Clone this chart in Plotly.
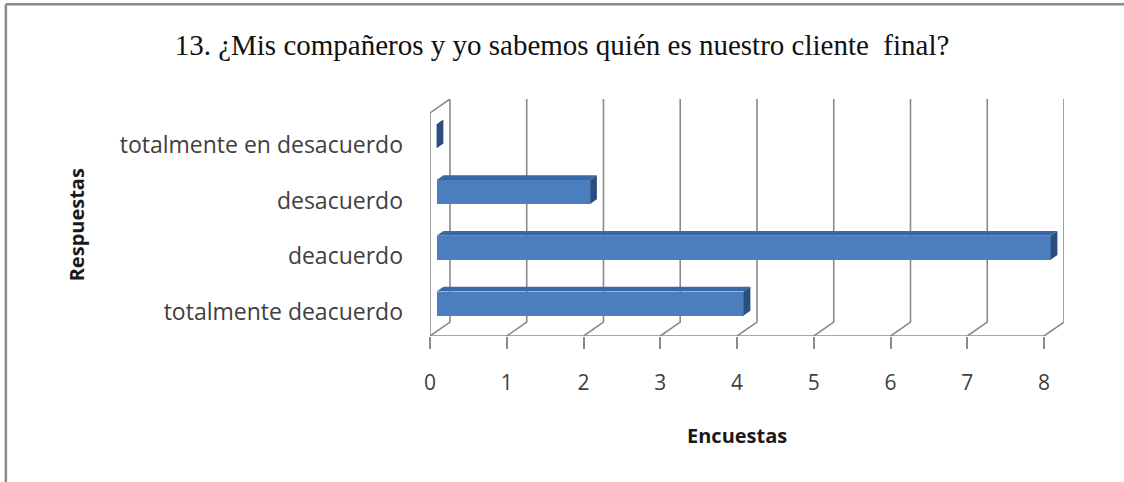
import plotly.graph_objects as go

# Survey answers (bottom to top) and number of responses
categorias = ["totalmente deacuerdo", "deacuerdo", "desacuerdo", "totalmente en desacuerdo"]
encuestas = [4, 8, 2, 0]
ticks_x = [0, 1, 2, 3, 4, 5, 6, 7, 8]

titulo = "13. ¿Mis compañeros y yo sabemos quién es nuestro cliente  final?"
titulo_x = "Encuestas"
titulo_y = "Respuestas"

# Pseudo-3D geometry, in axis units: wall depth and the slab each bar fills
PROF_X, PROF_Y = 0.26, 0.25
BAR_FRENTE, BAR_FONDO = 0.33, 0.67
BAR_ALTO = 0.43
# category labels sit slightly below the category centre
BAJA_ETIQUETA = 0.07

GRIS = "#8a8a8a"
AZUL_FRENTE = "#4a7ebf"
AZUL_ARRIBA = "#3a68a6"
AZUL_LADO = "#2b4e7e"
TEXTO = "#404040"
FUENTE = "Open Sans"

pos = list(range(len(categorias)))
y_min, y_max = -0.5, len(categorias) - 0.5
x_max = ticks_x[-1]
rango_x = [0, x_max + PROF_X]
rango_y = [y_min, y_max + PROF_Y]

fig = go.Figure()

# Back-wall gridlines with their floor diagonals, left wall, front axis line
gx, gy = [], []
for v in ticks_x:
    gx += [v, v + PROF_X, v + PROF_X, None]
    gy += [y_min, y_min + PROF_Y, y_max + PROF_Y, None]
gx += [0, 0, PROF_X, None]
gy += [y_min, y_max, y_max + PROF_Y, None]
gx += [0, x_max]
gy += [y_min, y_min]
fig.add_trace(go.Scatter(
    x=gx, y=gy, mode="lines", line=dict(color=GRIS, width=1.6),
    hoverinfo="skip", showlegend=False,
))

# Bars: front faces
off_x = BAR_FRENTE * PROF_X
off_y = BAR_FRENTE * PROF_Y
dx = (BAR_FONDO - BAR_FRENTE) * PROF_X
dy = (BAR_FONDO - BAR_FRENTE) * PROF_Y

fig.add_trace(go.Bar(
    x=encuestas, y=[p + off_y for p in pos], base=off_x, width=BAR_ALTO,
    orientation="h", marker=dict(color=AZUL_FRENTE, line=dict(width=0)),
    customdata=categorias, hovertemplate="%{customdata}: %{x}<extra></extra>",
    xaxis="x2", yaxis="y2", showlegend=False,
))

# Bars: top faces and end caps
tx, ty, cx, cy = [], [], [], []
for p, v in zip(pos, encuestas):
    yc = p + off_y
    yt, yb = yc + BAR_ALTO / 2, yc - BAR_ALTO / 2
    x0, x1 = off_x, off_x + v
    tx += [x0, x0 + dx, x1 + dx, x1, x0, None]
    ty += [yt, yt + dy, yt + dy, yt, yt, None]
    cx += [x1, x1 + dx, x1 + dx, x1, x1, None]
    cy += [yb, yb + dy, yt + dy, yt, yb, None]

fig.add_trace(go.Scatter(
    x=tx, y=ty, mode="lines", fill="toself", fillcolor=AZUL_ARRIBA,
    line=dict(width=0, color=AZUL_ARRIBA), hoverinfo="skip", showlegend=False,
    xaxis="x2", yaxis="y2",
))
fig.add_trace(go.Scatter(
    x=cx, y=cy, mode="lines", fill="toself", fillcolor=AZUL_LADO,
    line=dict(width=0, color=AZUL_LADO), hoverinfo="skip", showlegend=False,
    xaxis="x2", yaxis="y2",
))

# Axis titles
fig.add_annotation(
    text=titulo_x, x=x_max / 2, xref="x", y=-0.418, yref="paper",
    xanchor="center", yanchor="middle", showarrow=False,
    font=dict(family=FUENTE, size=20, color="#1a1a1a", weight="bold"),
)
fig.add_annotation(
    text=titulo_y, x=-0.557, xref="paper", y=(y_min + y_max) / 2, yref="y",
    xanchor="center", yanchor="middle", textangle=-90, showarrow=False,
    font=dict(family=FUENTE, size=20, color="#1a1a1a", weight="bold"),
)

# Outer frame: top and left edges
marco = dict(color="#8a8a8a", width=2.5)
fig.add_shape(type="line", xref="paper", yref="paper",
              x0=-0.669, x1=1.2, y0=1.4, y1=1.4, line=marco, layer="below")
fig.add_shape(type="line", xref="paper", yref="paper",
              x0=-0.669, x1=-0.669, y0=1.4, y1=-0.7, line=marco, layer="below")

fig.update_layout(
    width=1124, height=482, autosize=False,
    margin=dict(l=430, r=60, t=99, b=146),
    paper_bgcolor="white", plot_bgcolor="white",
    bargap=0,
    title=dict(
        text=titulo, x=0.5, xref="container", xanchor="center",
        y=1 - 45 / 482, yref="container", yanchor="middle",
        font=dict(family="Liberation Serif", size=29, color="#111111"),
    ),
    xaxis=dict(
        range=rango_x, tickvals=ticks_x, ticks="outside", ticklen=12,
        tickwidth=1.5, tickcolor=GRIS, showgrid=False, zeroline=False,
        showline=False, ticklabelstandoff=16,
        tickfont=dict(family=FUENTE, size=21, color=TEXTO),
    ),
    yaxis=dict(
        range=rango_y, tickvals=[p - BAJA_ETIQUETA for p in pos],
        ticktext=categorias, ticks="",
        showgrid=False, zeroline=False, showline=False, ticklabelstandoff=26,
        tickfont=dict(family=FUENTE, size=23, color=TEXTO),
    ),
    xaxis2=dict(range=rango_x, overlaying="x", anchor="y2", visible=False),
    yaxis2=dict(range=rango_y, overlaying="y", anchor="x2", visible=False),
)

fig.write_html("out.html", config={"displayModeBar": False})
